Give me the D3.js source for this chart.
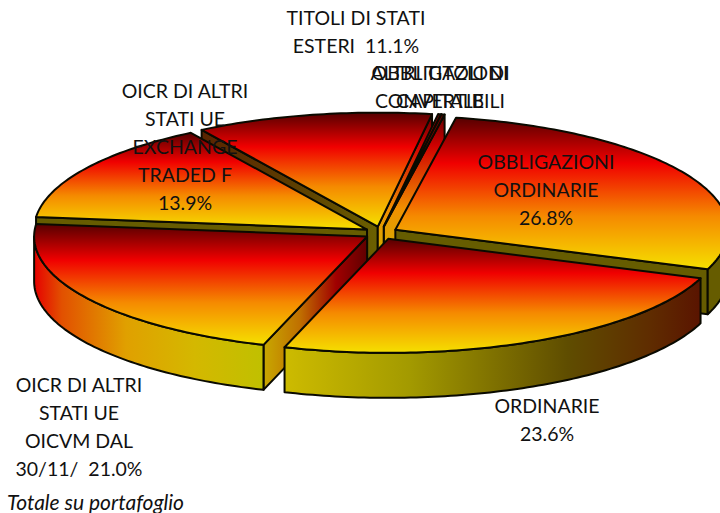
<!DOCTYPE html>
<html>
<head>
<meta charset="utf-8">
<script src="https://cdn.jsdelivr.net/npm/d3@7"></script>
<style>
html, body { margin: 0; padding: 0; background: #fff; overflow: hidden; }
text { font-family: Lato, "Open Sans", sans-serif; fill: #111; }
</style>
</head>
<body>
<script>
// portfolio split, clockwise from the top
const categories = ["OBBLIGAZIONI ORDINARIE", "ORDINARIE", "OICR DI ALTRI STATI UE OICVM DAL 30/11/",
    "OICR DI ALTRI STATI UE EXCHANGE TRADED F", "TITOLI DI STATI ESTERI", "OBBLIGAZIONI CONVERTIBILI", "ALTRI TITOLI DI CAPITALE"];
const values = [26.8, 23.6, 21.0, 13.9, 11.1, 0.15, 0.15];

const labelLines = [
    ["OBBLIGAZIONI", "ORDINARIE", "26.8%"],
    ["ORDINARIE", "23.6%"],
    ["OICR DI ALTRI", "STATI UE", "OICVM DAL", "30/11/  21.0%"],
    ["OICR DI ALTRI", "STATI UE", "EXCHANGE", "TRADED F", "13.9%"],
    ["TITOLI DI STATI", "ESTERI  11.1%"],
    ["OBBLIGAZIONI", "CONVERTIBILI"],
    ["ALTRI TITOLI DI", "CAPITALE"]
];
const labelX = [546, 547, 79, 185, 356, 440, 440];
const labelY = [162, 406, 385, 91, 18, 73, 73];

const w = 720, h = 513;
const cx = 381, cy = 233;
const rx = 333, ry = 114;
const depth = 45;
const explodeX = 16.5, explodeY = 6.5;
const rad = Math.PI / 180;

const svg = d3.select("body").append("svg")
    .attr("width", w)
    .attr("height", h)
    .style("display", "block");
const defs = svg.append("defs");

const topStops = [[0, "#560000"], [0.3, "#f00000"], [0.65, "#f58a00"], [1, "#f5e000"]];
const olive = [[0, "#665c00"], [1, "#665c00"]];
const ordRim = [[0, "#cdbb00"], [0.3, "#a39a00"], [0.68, "#5f4d00"], [0.88, "#5f2c00"], [1, "#5a1400"]];
const oicvmRim = [[0, "#e60000"], [0.12, "#e25000"], [0.4, "#e0a000"], [0.7, "#d4b800"], [1, "#c0c000"]];
const oicvmCut = [[0, "#c8a800"], [0.35, "#c07000"], [0.7, "#a00000"], [1, "#600000"]];
const titCut = [[0, "#5a2400"], [0.5, "#5c3c00"], [1, "#6b6000"]];
const thinCut = [[0, "#600000"], [0.2, "#d00000"], [0.6, "#f09000"], [1, "#c8b800"]];

function grad(id, stops, x1, y1, x2, y2) {
    const g = defs.append("linearGradient").attr("id", id)
        .attr("gradientUnits", "userSpaceOnUse")
        .attr("x1", x1).attr("y1", y1).attr("x2", x2).attr("y2", y2);
    stops.forEach(s => g.append("stop").attr("offset", s[0]).attr("stop-color", s[1]));
    return "url(#" + id + ")";
}

// bottom-most slices have to paint last
const pie = d3.pie().sort(null).startAngle(10.5 * rad).endAngle((360 + 10.5) * rad);
const slices = pie(values).map((d, i) => {
    const mid = (d.startAngle + d.endAngle) / 2;
    return {
        i: i,
        a0: d.startAngle,
        a1: d.endAngle,
        ox: cx + explodeX * Math.sin(mid),
        oy: cy - explodeY * Math.cos(mid)
    };
});
const drawOrder = [4, 5, 6, 3, 0, 2, 1];

function rimPoint(s, a, dz) {
    return [s.ox + rx * Math.sin(a), s.oy - ry * Math.cos(a) + (dz || 0)];
}
function rimPoints(s, a0, a1, dz) {
    const n = Math.max(2, Math.ceil((a1 - a0) / rad));
    return d3.range(n + 1).map(k => rimPoint(s, a0 + (a1 - a0) * k / n, dz));
}
const line = d3.line();

const chart = svg.append("g")
    .attr("stroke", "#0a0a00")
    .attr("stroke-width", 2)
    .attr("stroke-linejoin", "round");

drawOrder.forEach(idx => {
    const s = slices[idx];
    const g = chart.append("g");
    const apex = [s.ox, s.oy];

    // cut walls, only the ones facing us
    if (Math.sin(s.a0) < 0) {
        const p = rimPoint(s, s.a0);
        let fill = "#665c00";
        if (idx == 2) fill = grad("cut2", oicvmCut, p[0], 0, apex[0], 0);
        if (idx == 4) fill = grad("cut4", titCut, p[0], 0, apex[0], 0);
        if (idx == 3) fill = grad("cut3", olive, p[0], 0, apex[0], 0);
        g.append("path")
            .attr("d", line([apex, p, [p[0], p[1] + depth], [apex[0], apex[1] + depth]]) + "Z")
            .attr("fill", fill);
    }
    if (Math.sin(s.a1) > 0) {
        const p = rimPoint(s, s.a1);
        let fill = "#665c00";
        if (idx >= 4) fill = grad("end" + idx, thinCut, 0, p[1], 0, apex[1] + depth);
        g.append("path")
            .attr("d", line([apex, p, [p[0], p[1] + depth], [apex[0], apex[1] + depth]]) + "Z")
            .attr("fill", fill);
    }

    // outer wall for the front half of the rim
    const from = Math.max(s.a0, 90 * rad), to = Math.min(s.a1, 270 * rad);
    if (to > from) {
        const upper = rimPoints(s, from, to, 0);
        const lower = rimPoints(s, from, to, depth).reverse();
        const xs = d3.extent(upper, p => p[0]);
        let fill = "#665c00";
        if (idx == 1) fill = grad("rim1", ordRim, xs[0], 0, xs[1], 0);
        if (idx == 2) fill = grad("rim2", oicvmRim, xs[0], 0, xs[1], 0);
        g.append("path")
            .attr("d", line(upper.concat(lower)) + "Z")
            .attr("fill", fill);
    }

    // top face
    const rim = rimPoints(s, s.a0, s.a1, 0);
    const pts = [apex].concat(rim);
    const ys = d3.extent(pts, p => p[1]);
    g.append("path")
        .attr("d", line(pts) + "Z")
        .attr("fill", grad("top" + idx, topStops, 0, ys[0], 0, ys[1]));
});

// labels sit over the pie
const labels = svg.append("g")
    .attr("text-anchor", "middle")
    .attr("font-size", 19.5);
labelLines.forEach((lines, i) => {
    lines.forEach((t, k) => {
        labels.append("text")
            .attr("x", labelX[i])
            .attr("y", labelY[i] + k * 28)
            .attr("dy", "0.35em")
            .style("white-space", "pre")
            .attr("xml:space", "preserve")
            .text(t);
    });
});

svg.append("text")
    .attr("x", 7)
    .attr("y", 510)
    .attr("font-size", 21)
    .attr("font-style", "italic")
    .text("Totale su portafoglio");
</script>
</body>
</html>
